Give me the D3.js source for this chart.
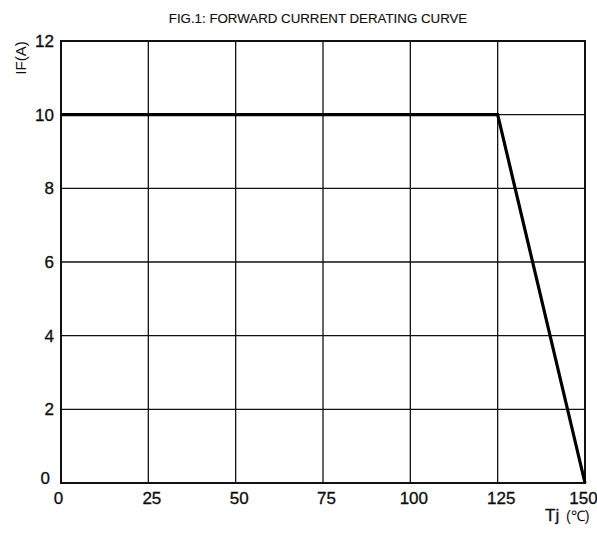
<!DOCTYPE html>
<html>
<head>
<meta charset="utf-8">
<script src="https://cdn.jsdelivr.net/npm/d3@7"></script>
<style>
body { margin: 0; background: #fff; }
text { font-family: "Liberation Sans", Arial, sans-serif; fill: #111; }
</style>
</head>
<body>
<script>
// derating curve
var tjValues = [0, 125, 150];
var ifValues = [10, 10, 0];
var xTicks = [0, 25, 50, 75, 100, 125, 150];
var yTicks = [0, 2, 4, 6, 8, 10, 12];

var svgW = 597, svgH = 533;
var padL = 61, padR = 585, padT = 41, padB = 483;

var svg = d3.select("body").append("svg")
    .attr("width", svgW)
    .attr("height", svgH);

var xScale = d3.scaleLinear().domain([0, 150]).range([padL, padR]);
var yScale = d3.scaleLinear().domain([0, 12]).range([padB, padT]);

// grid
svg.append("g").selectAll("line")
    .data(xTicks.slice(1, -1))
    .enter().append("line")
    .attr("x1", function(d) { return xScale(d); })
    .attr("x2", function(d) { return xScale(d); })
    .attr("y1", padT).attr("y2", padB)
    .attr("stroke", "#111").attr("stroke-width", 1.3);

svg.append("g").selectAll("line")
    .data(yTicks.slice(1, -1))
    .enter().append("line")
    .attr("y1", function(d) { return yScale(d); })
    .attr("y2", function(d) { return yScale(d); })
    .attr("x1", padL).attr("x2", padR)
    .attr("stroke", "#111").attr("stroke-width", 1.3);

// frame
svg.append("rect")
    .attr("x", padL).attr("y", padT)
    .attr("width", padR - padL).attr("height", padB - padT)
    .attr("fill", "none").attr("stroke", "#111").attr("stroke-width", 2);

// axes labels (no tick marks)
var xAxis = d3.axisBottom(xScale).tickValues(xTicks).tickSize(0).tickPadding(9);
var gx = svg.append("g").attr("transform", "translate(0," + padB + ")").call(xAxis);
gx.select(".domain").remove();
gx.selectAll("text")
    .attr("dx", function(d) { return d == 0 ? -3 : (d == 150 ? -2 : 3); });

var yAxis = d3.axisLeft(yScale).tickValues(yTicks).tickSize(0).tickPadding(7);
var gy = svg.append("g").attr("transform", "translate(" + padL + ",0)").call(yAxis);
gy.select(".domain").remove();
gy.selectAll("text")
    .attr("dx", function(d) { return d == 0 ? -4 : 0; })
    .attr("dy", function(d) { return d == 0 ? "0.05em" : "0.32em"; });

svg.selectAll(".tick text")
    .attr("font-family", null)
    .attr("font-size", null)
    .style("font-size", "17px")
    .attr("fill", "#000")
    .attr("stroke", "#000")
    .attr("stroke-width", 0.3);

// curve
var line = d3.line()
    .x(function(d, i) { return xScale(tjValues[i]); })
    .y(function(d, i) { return yScale(ifValues[i]); });

svg.append("path")
    .datum(tjValues)
    .attr("d", line)
    .attr("fill", "none")
    .attr("stroke", "#000")
    .attr("stroke-width", 3.2);

// titles
svg.append("text")
    .attr("x", 318).attr("y", 23)
    .attr("text-anchor", "middle")
    .style("font-size", "13.3px")
    .attr("stroke", "#111").attr("stroke-width", 0.15)
    .text("FIG.1: FORWARD CURRENT  DERATING CURVE");

svg.append("text")
    .attr("transform", "translate(26,58) rotate(-90)")
    .attr("text-anchor", "middle")
    .style("font-size", "15px")
    .text("IF(A)");

svg.append("text")
    .attr("x", 545).attr("y", 521)
    .style("font-size", "17px")
    .attr("stroke", "#111").attr("stroke-width", 0.3)
    .text("Tj");
svg.append("text")
    .attr("x", 566).attr("y", 521)
    .style("font-size", "14.5px")
    .text("(℃)");
</script>
</body>
</html>
